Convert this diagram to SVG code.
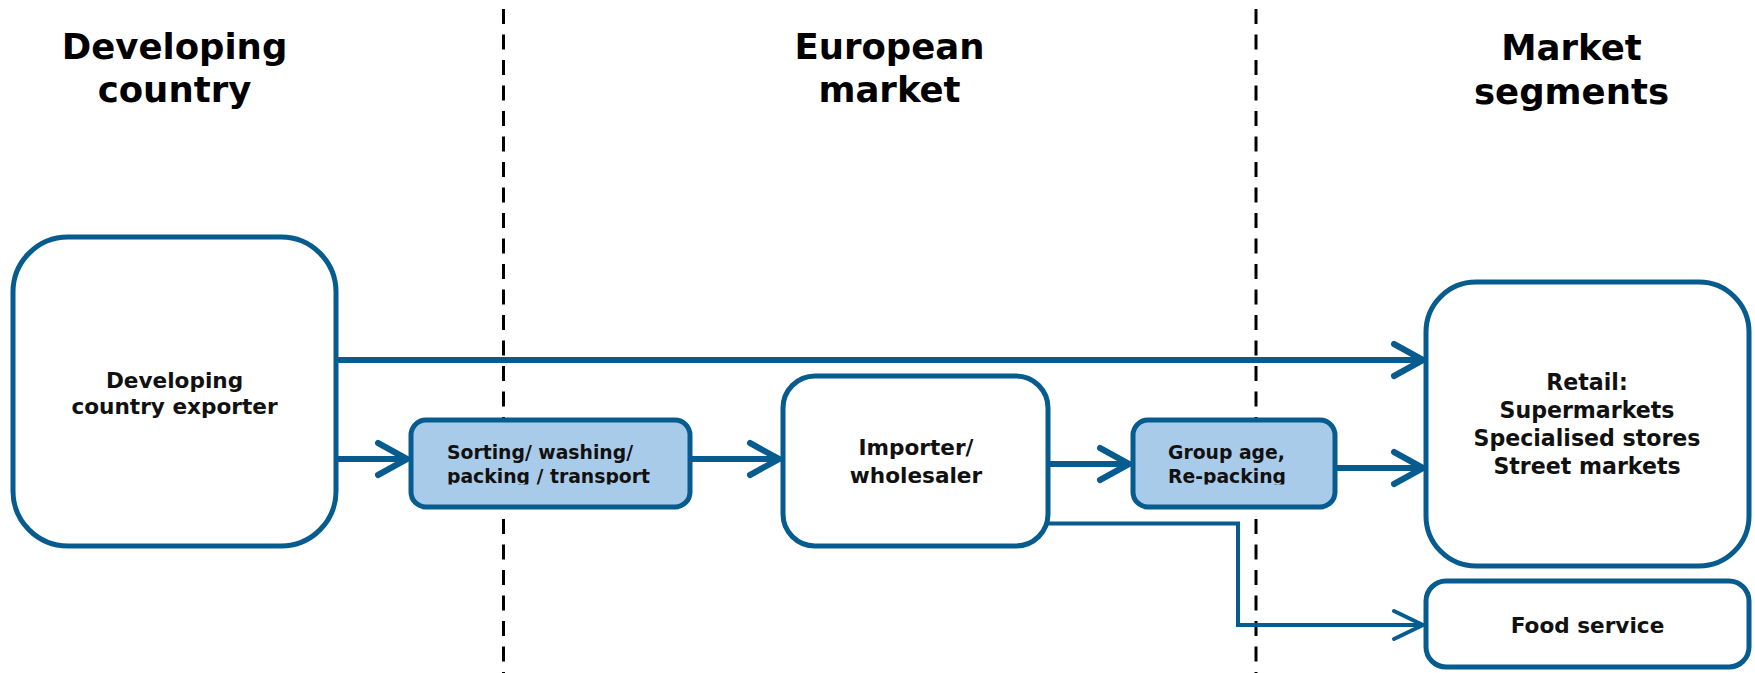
<svg xmlns="http://www.w3.org/2000/svg" width="1755" height="673" viewBox="0 0 1755 673">
<style>
.box{fill:#ffffff;stroke:#065b8f;stroke-width:5}
.step{fill:#a9cbea;stroke:#065b8f;stroke-width:5}
.conn{fill:none;stroke:#065b8f;stroke-width:6}
.thin{fill:none;stroke:#065b8f;stroke-width:4}
.div{stroke:#000000;stroke-width:3;stroke-dasharray:15 10.5}
.hdr{font-family:"DejaVu Sans",Verdana,sans-serif;font-weight:bold;font-size:35.5px;fill:#000;text-anchor:middle}
.lbl{font-family:"DejaVu Sans",Verdana,sans-serif;font-weight:bold;font-size:21.6px;fill:#111;text-anchor:middle}
.rt{font-size:22.1px}
.sm{font-family:"DejaVu Sans",Verdana,sans-serif;font-weight:bold;font-size:18.8px;fill:#111}
</style>
<defs>
<marker id="ah" markerUnits="userSpaceOnUse" viewBox="-36 -22 42 44" refX="0" refY="0" markerWidth="42" markerHeight="44" orient="auto">
<path d="M-29,-16 L0,0 L-29,16" fill="none" stroke="#065b8f" stroke-width="6" stroke-linecap="round" stroke-linejoin="round"/>
</marker>
<marker id="ahs" markerUnits="userSpaceOnUse" viewBox="-36 -22 42 44" refX="0" refY="0" markerWidth="42" markerHeight="44" orient="auto">
<path d="M-29,-14 L0,0 L-29,14" fill="none" stroke="#065b8f" stroke-width="4" stroke-linecap="round" stroke-linejoin="round"/>
</marker>
<clipPath id="clipS"><rect x="411" y="420" width="279" height="64.5"/></clipPath>
<clipPath id="clipG"><rect x="1133" y="420" width="202" height="64.5"/></clipPath>
</defs>
<rect width="1755" height="673" fill="#ffffff"/>

<g id="dividers">
<line class="div" x1="503.5" y1="9" x2="503.5" y2="673"/>
<line class="div" x1="1256" y1="9" x2="1256" y2="673"/>
</g>

<g id="headers">
<text class="hdr" x="174.5" y="58.5">Developing</text>
<text class="hdr" x="174.5" y="102">country</text>
<text class="hdr" x="889.5" y="58.5">European</text>
<text class="hdr" x="889.5" y="102">market</text>
<text class="hdr" x="1571.5" y="60">Market</text>
<text class="hdr" x="1571.5" y="103.5">segments</text>
</g>

<g id="connectors">
<line class="conn" x1="336" y1="360" x2="1423" y2="360" marker-end="url(#ah)"/>
<line class="conn" x1="336" y1="459" x2="407" y2="459" marker-end="url(#ah)"/>
<line class="conn" x1="690" y1="459" x2="779" y2="459" marker-end="url(#ah)"/>
<line class="conn" x1="1048" y1="464" x2="1129" y2="464" marker-end="url(#ah)"/>
<line class="conn" x1="1335" y1="468" x2="1423" y2="468" marker-end="url(#ah)"/>
<polyline class="thin" points="1048,523.5 1238,523.5 1238,625 1423,625" marker-end="url(#ahs)"/>
</g>

<g id="exporter">
<rect class="box" x="13" y="237" width="323" height="309" rx="55" ry="55"/>
<text class="lbl" x="174.5" y="387.5">Developing</text>
<text class="lbl" x="174.5" y="414">country exporter</text>
</g>

<g id="sorting">
<rect class="step" x="411" y="420" width="279" height="87" rx="15" ry="15"/>
<g clip-path="url(#clipS)">
<text class="sm" x="447" y="458.5">Sorting/ washing/</text>
<text class="sm" x="447" y="482.5">packing / transport</text>
</g>
</g>

<g id="importer">
<rect class="box" x="783" y="376" width="265" height="170" rx="32" ry="32"/>
<text class="lbl" x="916" y="455">Importer/</text>
<text class="lbl" x="916" y="483">wholesaler</text>
</g>

<g id="grouping">
<rect class="step" x="1133" y="420" width="202" height="87" rx="15" ry="15"/>
<g clip-path="url(#clipG)">
<text class="sm" x="1168" y="459">Group age,</text>
<text class="sm" x="1168" y="482.5">Re-packing</text>
</g>
</g>

<g id="retail">
<rect class="box" x="1426" y="282" width="323" height="284" rx="50" ry="50"/>
<text class="lbl rt" x="1587" y="390">Retail:</text>
<text class="lbl rt" x="1587" y="418">Supermarkets</text>
<text class="lbl rt" x="1587" y="446">Specialised stores</text>
<text class="lbl rt" x="1587" y="473.5">Street markets</text>
</g>

<g id="foodservice">
<rect class="box" x="1426" y="581" width="323" height="86" rx="20" ry="20"/>
<text class="lbl" x="1587.5" y="633">Food service</text>
</g>
</svg>
